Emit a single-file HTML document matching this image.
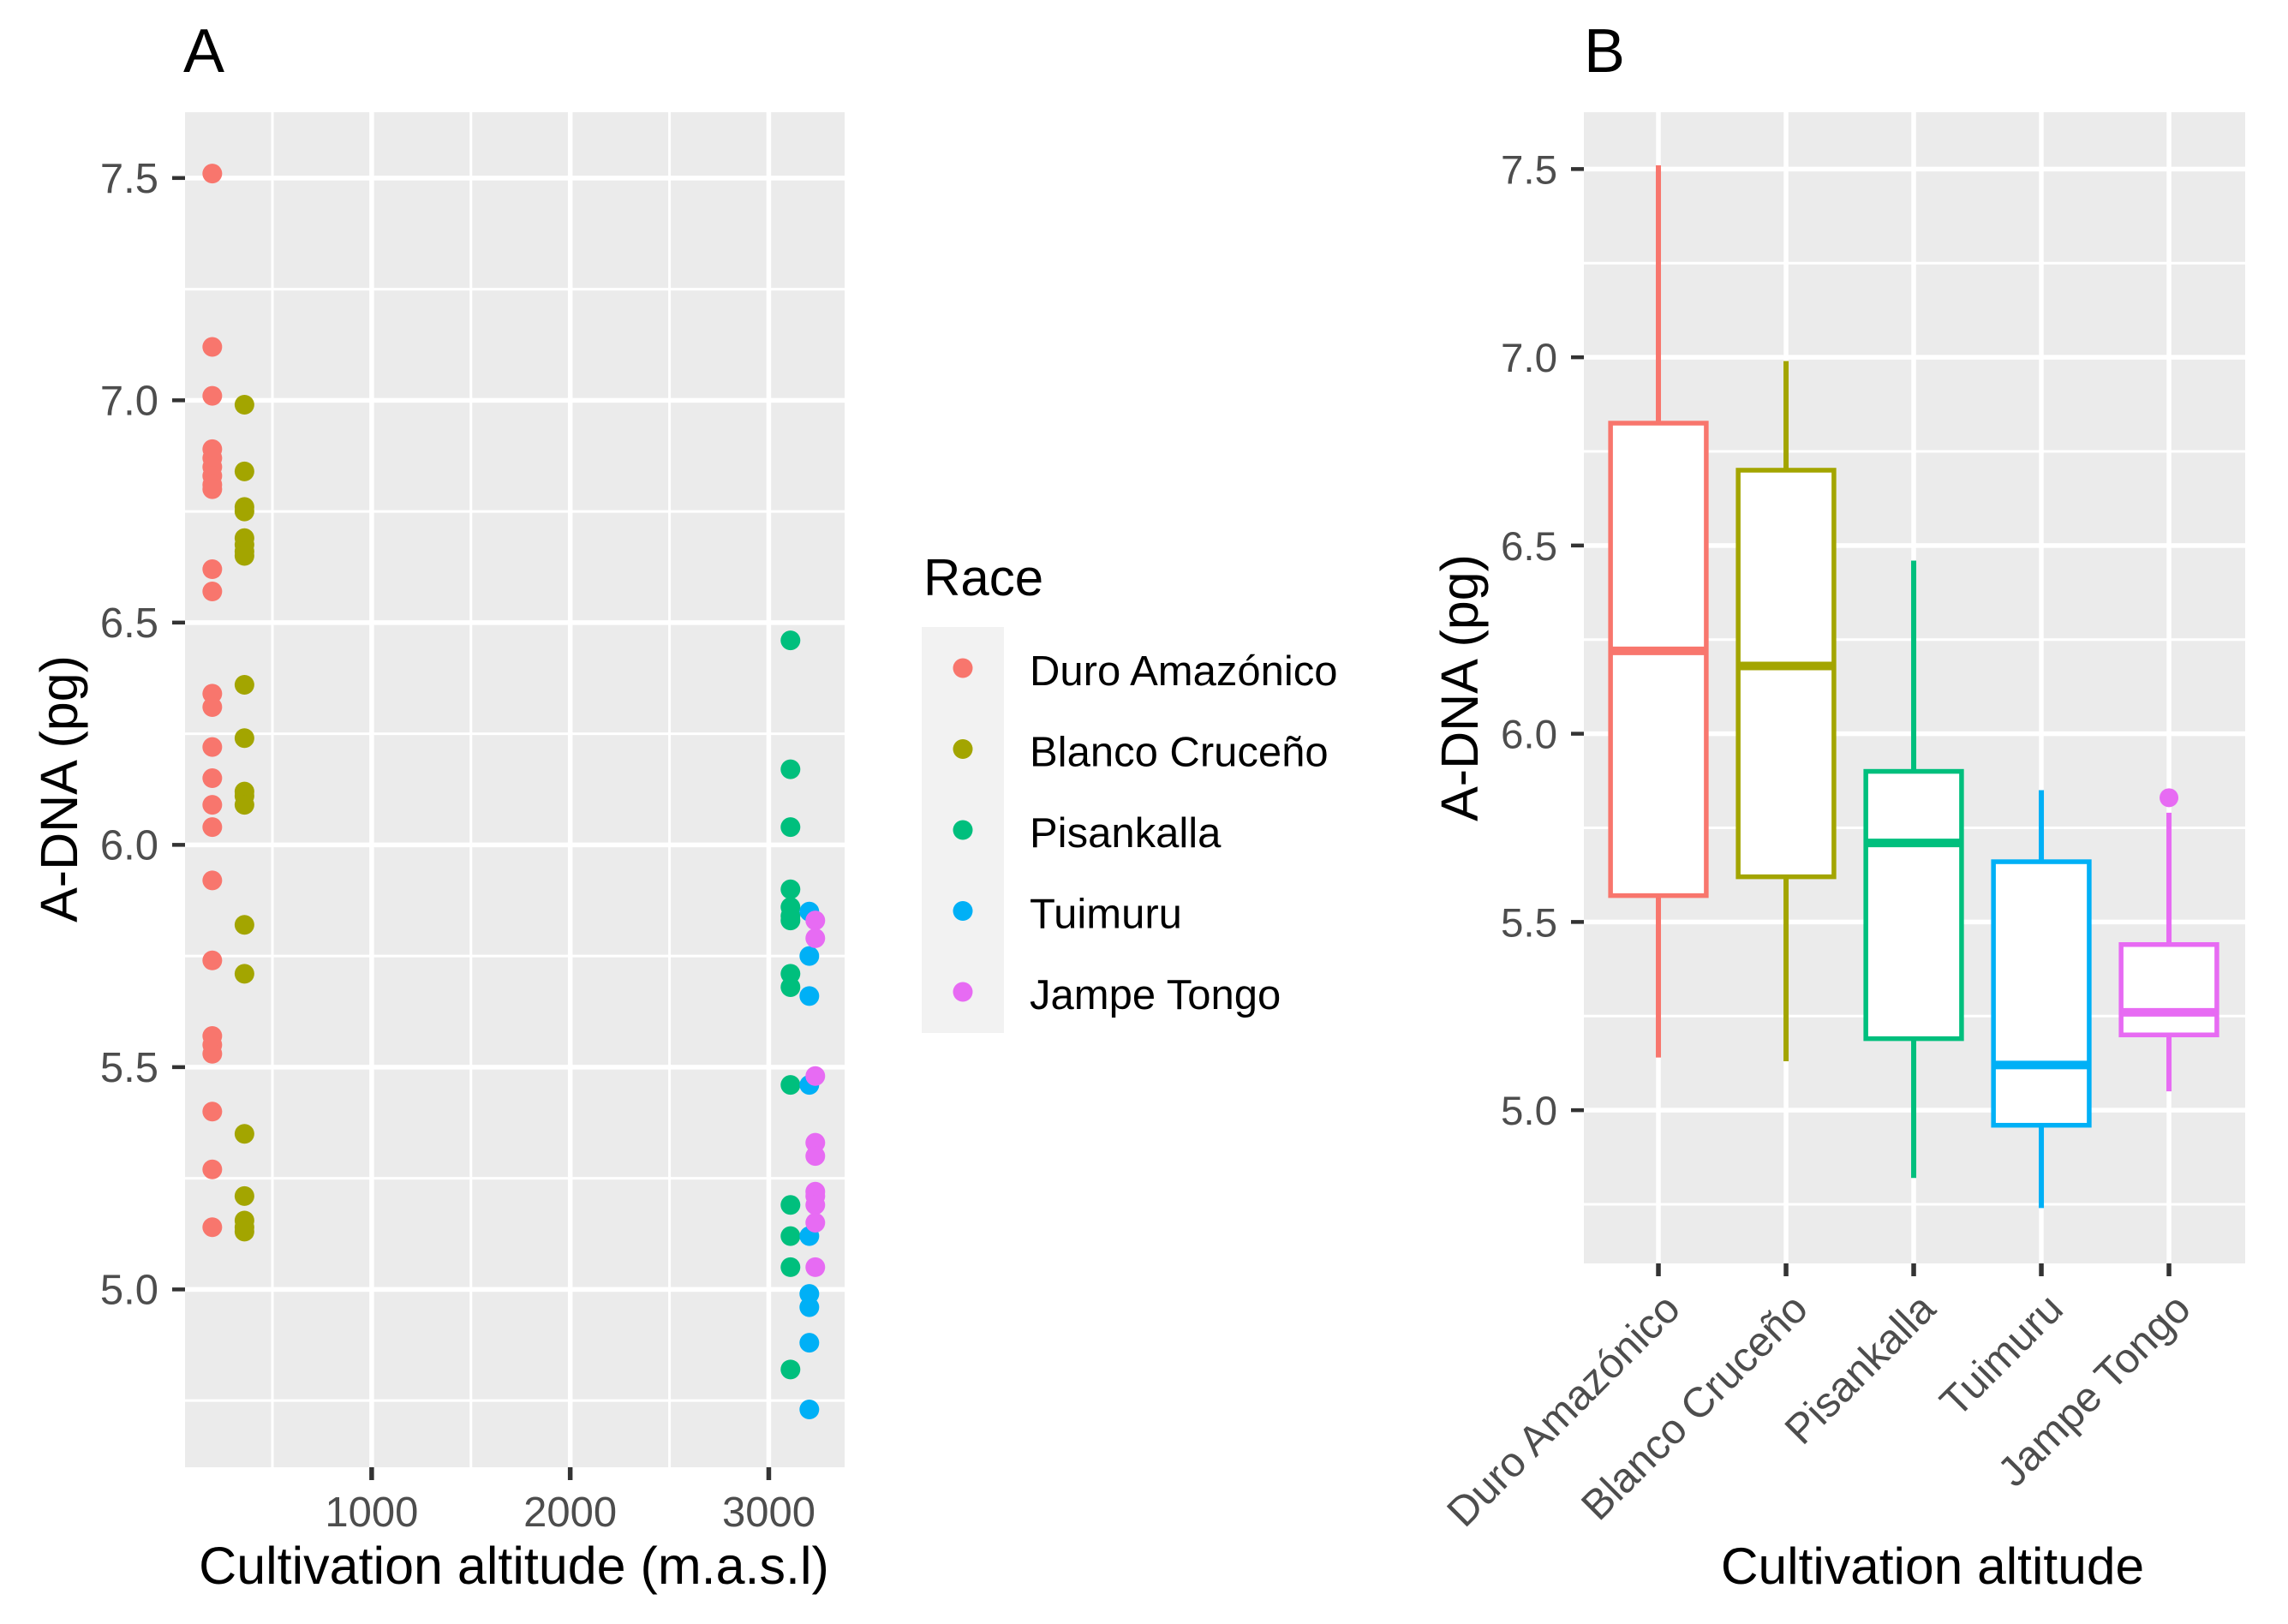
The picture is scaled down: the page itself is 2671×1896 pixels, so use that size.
<!DOCTYPE html>
<html>
<head>
<meta charset="utf-8">
<title>A-DNA by altitude and race</title>
<style>
html,body{margin:0;padding:0;background:#fff;}
svg{display:block;}
text{font-family:"Liberation Sans",sans-serif;}
</style>
</head>
<body>
<svg id="figure" xmlns="http://www.w3.org/2000/svg" width="2671" height="1896" viewBox="0 0 2671 1896">
  <rect x="0" y="0" width="2671" height="1896" fill="#fff"/>
  <g id="panelA"></g>
  <g id="panelB"></g>
  <text x="214" y="84" font-size="72" fill="#000">A</text>
  <text x="1849" y="84" font-size="72" fill="#000">B</text>
  <text x="600" y="1849" font-size="61" text-anchor="middle" fill="#000">Cultivation altitude (m.a.s.l)</text>
  <text x="2256" y="1849" font-size="60.5" text-anchor="middle" fill="#000">Cultivation altitude</text>
  <text transform="translate(90,921) rotate(-90)" font-size="61" text-anchor="middle" fill="#000">A-DNA (pg)</text>
  <text transform="translate(1725,803) rotate(-90)" font-size="61" text-anchor="middle" fill="#000">A-DNA (pg)</text>
  <g id="legend">
    <text x="1078" y="695" font-size="60" fill="#000">Race</text>
    <rect x="1076" y="732" width="96" height="474" fill="#F2F2F2"/>
  </g>
</svg>
<script>
const categories = ["Duro Amazónico", "Blanco Cruceño", "Pisankalla", "Tuimuru", "Jampe Tongo"];
const categorySlugs = ["duro-amazonico", "blanco-cruceno", "pisankalla", "tuimuru", "jampe-tongo"];
const colors = ["#F8766D", "#A3A500", "#00BF7D", "#00B0F6", "#E76BF3"];

const altitudes = [193, 355, 3105, 3200, 3230];
const duroValues = [7.51, 7.12, 7.01, 6.89, 6.87, 6.85, 6.83, 6.81, 6.80, 6.62, 6.57, 6.34, 6.31, 6.22, 6.15, 6.09, 6.04, 5.92, 5.74, 5.57, 5.55, 5.53, 5.40, 5.27, 5.14];
const blancoValues = [6.99, 6.84, 6.76, 6.75, 6.69, 6.675, 6.66, 6.65, 6.36, 6.24, 6.12, 6.11, 6.09, 5.82, 5.71, 5.35, 5.21, 5.155, 5.14, 5.13];
const pisankallaValues = [6.46, 6.17, 6.04, 5.90, 5.86, 5.84, 5.83, 5.71, 5.68, 5.46, 5.19, 5.12, 5.05, 4.82];
const tuimuruValues = [5.85, 5.75, 5.66, 5.46, 5.12, 4.99, 4.96, 4.88, 4.73];
const jampeValues = [5.83, 5.79, 5.48, 5.33, 5.30, 5.22, 5.21, 5.19, 5.15, 5.05];
const scatterValues = [duroValues, blancoValues, pisankallaValues, tuimuruValues, jampeValues];

const whiskerHigh = [7.51, 6.99, 6.46, 5.85, 5.79];
const quartile3 = [6.825, 6.70, 5.90, 5.66, 5.44];
const medians = [6.22, 6.18, 5.71, 5.12, 5.26];
const quartile1 = [5.57, 5.62, 5.19, 4.96, 5.20];
const whiskerLow = [5.14, 5.13, 4.82, 4.74, 5.05];
const outlierValues = [[], [], [], [], [5.83]];

const yMajorTicks = [5.0, 5.5, 6.0, 6.5, 7.0, 7.5];
const yMinorTicks = [4.75, 5.25, 5.75, 6.25, 6.75, 7.25];
const xMajorTicksA = [1000, 2000, 3000];
const xMinorTicksA = [500, 1500, 2500];

function linear(d0, d1, r0, r1) {
  return function (v) { return r0 + (v - d0) * (r1 - r0) / (d1 - d0); };
}
const PA = { l: 216, r: 986, t: 131, b: 1713 };
const PB = { l: 1849, r: 2621, t: 131, b: 1475 };
const xA = linear(60, 3382, PA.l, PA.r);
const yA = linear(4.6, 7.648, PA.b, PA.t);
const xB = linear(-0.584, 4.597, PB.l, PB.r);
const yB = linear(4.593, 7.651, PB.b, PB.t);

const NS = "http://www.w3.org/2000/svg";
function make(parent, tag, attrs, txt) {
  const el = document.createElementNS(NS, tag);
  for (const k in attrs) el.setAttribute(k, attrs[k]);
  if (txt !== undefined) el.textContent = txt;
  parent.appendChild(el);
  return el;
}
const panelA = document.getElementById("panelA");
const panelB = document.getElementById("panelB");
const legend = document.getElementById("legend");

function drawPanel(parent, P, xs, y, xMajor, xMinor, prefix, labelSize) {
  const bg = make(parent, "rect", { x: P.l, y: P.t, width: P.r - P.l, height: P.b - P.t, fill: "#EBEBEB" });
  
  
  xMinor.forEach(function (t) {
    const ln = make(parent, "line", { x1: xs(t), x2: xs(t), y1: P.t, y2: P.b, stroke: "#fff", "stroke-width": 3 });
    
    
  });
  yMinorTicks.forEach(function (t) {
    const ln = make(parent, "line", { x1: P.l, x2: P.r, y1: y(t), y2: y(t), stroke: "#fff", "stroke-width": 3 });
    
    
  });
  xMajor.forEach(function (t) {
    const ln = make(parent, "line", { x1: xs(t), x2: xs(t), y1: P.t, y2: P.b, stroke: "#fff", "stroke-width": 5.5 });
    
    
    const tk = make(parent, "line", { x1: xs(t), x2: xs(t), y1: P.b, y2: P.b + 15, stroke: "#333", "stroke-width": 5.5 });
    
    
  });
  yMajorTicks.forEach(function (t) {
    const ln = make(parent, "line", { x1: P.l, x2: P.r, y1: y(t), y2: y(t), stroke: "#fff", "stroke-width": 5.5 });
    
    
    const tk = make(parent, "line", { x1: P.l - 15, x2: P.l, y1: y(t), y2: y(t), stroke: "#333", "stroke-width": 4.5 });
    
    
    const lb = make(parent, "text", { x: P.l - 31, y: y(t) + 17, "text-anchor": "end", "font-size": labelSize, fill: "#4D4D4D" }, t.toFixed(1));
    
    
  });
}

/* Panel A: scatter */
drawPanel(panelA, PA, xA, yA, xMajorTicksA, xMinorTicksA, "panel-a", 49);
xMajorTicksA.forEach(function (t) {
  const lb = make(panelA, "text", { x: xA(t), y: 1782, "text-anchor": "middle", "font-size": 49, fill: "#4D4D4D" }, String(t));
  
  
});
scatterValues.forEach(function (vals, i) {
  vals.forEach(function (v) {
    const c = make(panelA, "circle", { cx: xA(altitudes[i]) + 1, cy: yA(v), r: 11.5, fill: colors[i] });
    
    
  });
});

/* Panel B: boxplots */
const catIndex = categories.map(function (_, i) { return i; });
drawPanel(panelB, PB, xB, yB, catIndex, [], "panel-b", 47.5);
const boxHalf = 0.375;
categories.forEach(function (name, i) {
  const col = colors[i];
  const cx = xB(i);
  const up = make(panelB, "line", { x1: cx, x2: cx, y1: yB(whiskerHigh[i]), y2: yB(quartile3[i]), stroke: col, "stroke-width": 6 });
  
  
  const dn = make(panelB, "line", { x1: cx, x2: cx, y1: yB(quartile1[i]), y2: yB(whiskerLow[i]), stroke: col, "stroke-width": 6 });
  
  
  const box = make(panelB, "rect", {
    x: xB(i - boxHalf), y: yB(quartile3[i]),
    width: xB(i + boxHalf) - xB(i - boxHalf),
    height: yB(quartile1[i]) - yB(quartile3[i]),
    fill: "#fff", stroke: col, "stroke-width": 5.5
  });
  
  
  const med = make(panelB, "line", { x1: xB(i - boxHalf), x2: xB(i + boxHalf), y1: yB(medians[i]), y2: yB(medians[i]), stroke: col, "stroke-width": 10 });
  
  
  outlierValues[i].forEach(function (v) {
    const o = make(panelB, "circle", { cx: cx, cy: yB(v), r: 11, fill: col });
    
    
  });
  const lb = make(panelB, "text", {
    transform: "translate(" + (cx + 28) + ",1531) rotate(-45)",
    "text-anchor": "end", "font-size": 49, fill: "#4D4D4D"
  }, name);
  
  
});

/* Legend */
const legendRowStep = 94.5;
categories.forEach(function (name, i) {
  const rowY = 780 + i * legendRowStep;
  const k = make(legend, "circle", { cx: 1124, cy: rowY, r: 11.5, fill: colors[i] });
  
  
  const t = make(legend, "text", { x: 1202, y: rowY + 20, "font-size": 49, fill: "#000" }, name);
  
  
});
</script>
</body>
</html>
